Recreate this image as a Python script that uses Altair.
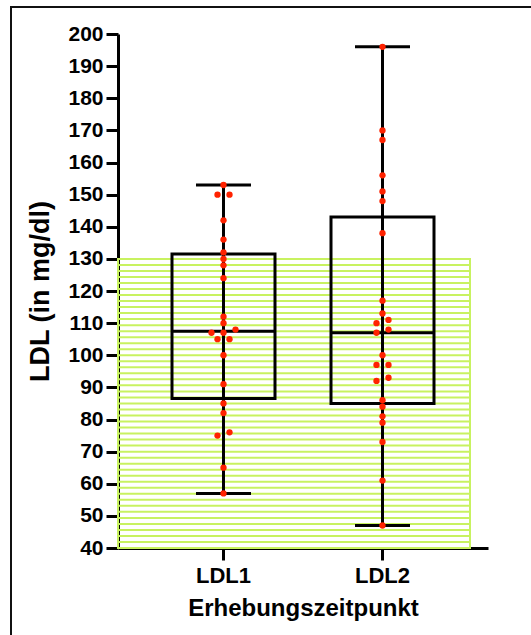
import altair as alt
import numpy as np
import pandas as pd

groups = ["LDL1", "LDL2"]
ldl1 = [153, 150, 150, 142, 136, 132, 130, 128, 124, 112, 110, 108, 107, 107,
        105, 105, 100, 91, 85, 82, 76, 75, 65, 57]
ldl2 = [196, 170, 167, 156, 151, 148, 138, 117, 113, 111, 110, 108, 107, 100,
        97, 97, 93, 92, 86, 84, 81, 79, 73, 61, 47]
ref_low, ref_high = 40, 130
y_ticks = list(range(40, 201, 10))

FONT = "Liberation Sans"
W, H = 370, 514
PAD_OUTER = 0.1635
STEP = W / (2 + 2 * PAD_OUTER)
HALF = STEP / 2
SWARM_SPACING = 12


def swarm(vals):
    s = sorted(vals)
    clusters = []
    for v in s:
        if clusters and v - clusters[-1][-1] <= 1:
            clusters[-1].append(v)
        else:
            clusters.append([v])
    out = []
    for c in clusters:
        k = len(c)
        for i, v in enumerate(c):
            out.append((v, (i - (k - 1) / 2) * SWARM_SPACING))
    return out


rows = []
stats = []
for g, vals in zip(groups, [ldl1, ldl2]):
    for v, off in swarm(vals):
        rows.append({"g": g, "v": v, "off": off})
    q1, med, q3 = np.percentile(vals, [25, 50, 75], method="weibull")
    stats.append({"g": g, "lo": min(vals), "q1": q1, "med": med, "q3": q3, "hi": max(vals)})
pts = pd.DataFrame(rows)
st = pd.DataFrame(stats)

xscale = alt.Scale(paddingInner=0, paddingOuter=PAD_OUTER)
xaxis = alt.Axis(title="Erhebungszeitpunkt", labelAngle=0, labelFontSize=22,
                 titleFontSize=24, labelPadding=5, titlePadding=10)
yscale = alt.Scale(domain=[40, 200], nice=False, zero=False)
yaxis = alt.Axis(values=y_ticks, title="LDL (in mg/dl)", labelFontSize=21,
                 titleFontSize=27, labelPadding=3, titlePadding=13, labelOverlap=False)


def X():
    return alt.X("g:N", sort=groups, scale=xscale, axis=xaxis)


def Y(field):
    return alt.Y(field, scale=yscale, axis=yaxis)


stripe_vals = pd.DataFrame({"y": np.arange(ref_low, ref_high, 1.875)})
GREEN = "#c8f260"

frame = alt.Chart(pd.DataFrame({"a": [0]})).mark_rect(
    fill="transparent", stroke="#111", strokeWidth=2
).encode(x=alt.value(-107), x2=alt.value(440), y=alt.value(-27), y2=alt.value(620))

stripes = alt.Chart(stripe_vals).mark_rule(color=GREEN, strokeWidth=2).encode(
    y=Y("y:Q"), x=alt.value(0), x2=alt.value(352))

hatch_border = alt.Chart(pd.DataFrame({"lo": [ref_low], "hi": [ref_high]})).mark_rect(
    fill="transparent", stroke=GREEN, strokeWidth=2
).encode(y=Y("lo:Q"), y2="hi:Q", x=alt.value(0), x2=alt.value(352))

base = alt.Chart(st)
whisk = base.mark_rule(color="black", strokeWidth=3).encode(
    x=X(), y=Y("lo:Q"), y2="hi:Q")
box = base.mark_bar(fill="transparent", stroke="black", strokeWidth=3, size=103).encode(
    x=X(), y=Y("q1:Q"), y2="q3:Q")
med = base.mark_tick(color="black", thickness=3, size=103, opacity=1).encode(
    x=X(), y=Y("med:Q"))
cap_lo = base.mark_tick(color="black", thickness=3, size=55, opacity=1).encode(
    x=X(), y=Y("lo:Q"))
cap_hi = base.mark_tick(color="black", thickness=3, size=55, opacity=1).encode(
    x=X(), y=Y("hi:Q"))

dots = alt.Chart(pts).mark_circle(color="#ff2200", opacity=1, size=40).encode(
    x=X(),
    xOffset=alt.XOffset("off:Q", scale=alt.Scale(domain=[-HALF, HALF], range=[0, STEP])),
    y=Y("v:Q"))

chart = alt.layer(frame, stripes, hatch_border, whisk, box, med, cap_lo, cap_hi, dots).properties(
    width=W, height=H,
    autosize=alt.AutoSizeParams(type="none"),
    padding={"left": 118, "top": 34, "right": 43, "bottom": 87},
).configure_view(stroke=None).configure_axis(
    labelFont=FONT, titleFont=FONT, labelFontWeight="bold", titleFontWeight="bold",
    labelColor="black", titleColor="black", domainColor="black", tickColor="black",
    domainWidth=3, tickWidth=3, tickSize=12, grid=False, zindex=1
)

chart.save("out.html", embed_options={"renderer": "svg", "actions": False})
